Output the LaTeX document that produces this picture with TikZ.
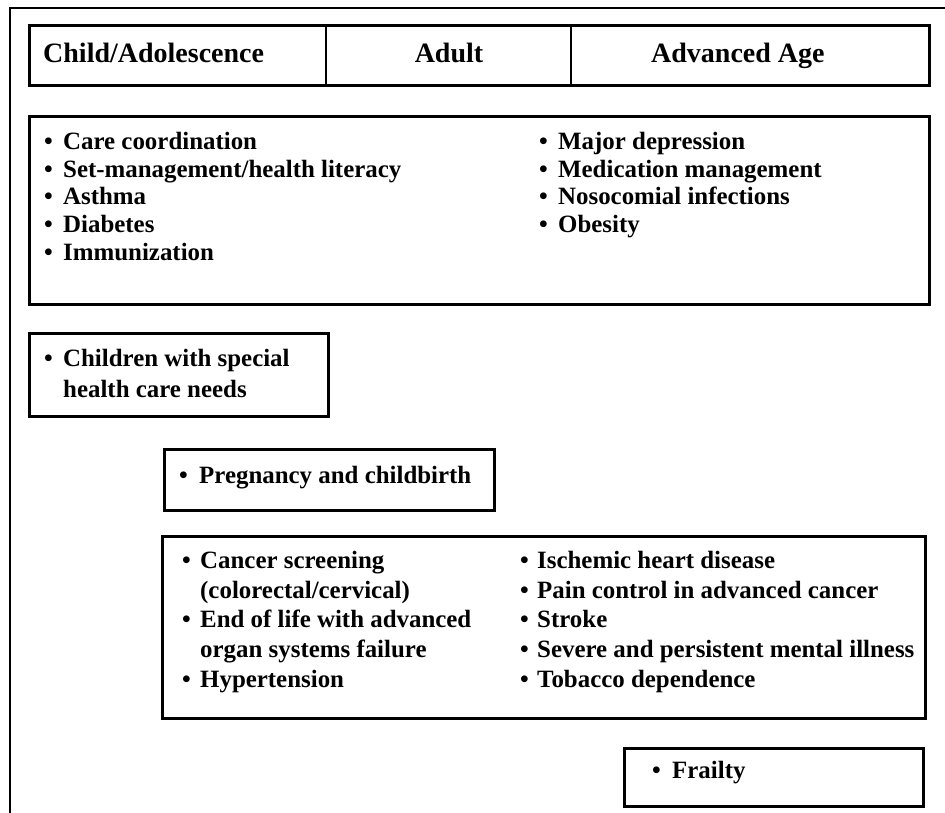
\documentclass[tikz,border=0pt]{standalone}
\usepackage{fontspec}
\setmainfont{Liberation Serif}
\newcommand{\bulbox}[1]{\makebox[#1][l]{•}}
\begin{document}
\begin{tikzpicture}[x=1pt,y=-1pt,
  frameline/.style={line width=2.4pt, line cap=rect},
  boxline/.style={draw, line width=2.7pt},
  pane/.style={boxline, anchor=north west, inner sep=0pt},
  head/.style={anchor=base west, inner sep=0pt, font=\bfseries\fontsize{28}{30}\selectfont},
  itm/.style={anchor=base west, inner sep=0pt, font=\bfseries\fontsize{24.9}{27}\selectfont},
]
\useasboundingbox (0,0) rectangle (945,813);
% outer frame (top and left)
\draw[frameline] (946,8) -- (10,8) -- (10,814);

% header
\node[pane, minimum width=900pt, minimum height=60pt] (hdr) at (28,24) {};
\draw[boxline] (326,24) -- (326,84);
\draw[boxline] (571,24) -- (571,84);
\node[head] (h1) at (43,63) {Child/Adolescence};
\node[head, anchor=base] (h2) at (449,63) {Adult};
\node[head] (h3) at (651,63) {Advanced Age};

% box 2
\node[pane, minimum width=900pt, minimum height=188pt] (b2) at (28,115) {};
\node[itm] (a1) at (44,150) {\bulbox{19pt}Care coordination};
\node[itm] (a2) at (44,177.5) {\bulbox{19pt}Set-management/health literacy};
\node[itm] (a3) at (44,205) {\bulbox{19pt}Asthma};
\node[itm] (a4) at (44,232.5) {\bulbox{19pt}Diabetes};
\node[itm] (a5) at (44,260) {\bulbox{19pt}Immunization};
\node[itm] (a6) at (539,150) {\bulbox{19pt}Major depression};
\node[itm] (a7) at (539,177.5) {\bulbox{19pt}Medication management};
\node[itm] (a8) at (539,205) {\bulbox{19pt}Nosocomial infections};
\node[itm] (a9) at (539,232.5) {\bulbox{19pt}Obesity};

% box 3
\node[pane, minimum width=299pt, minimum height=83pt] (b3) at (28,332) {};
\node[itm] (c1) at (44,366) {\bulbox{19pt}Children with special};
\node[itm] (c2) at (63,397) {health care needs};

% box 4
\node[pane, minimum width=330pt, minimum height=61pt] (b4) at (163,448) {};
\node[itm] (p1) at (179,483) {\bulbox{20pt}Pregnancy and childbirth};

% box 5
\node[pane, minimum width=763pt, minimum height=182pt] (b5) at (161,535) {};
\node[itm] (d1) at (182,568) {\bulbox{18pt}Cancer screening};
\node[itm] (d2) at (200,598) {(colorectal/cervical)};
\node[itm] (d3) at (182,627.5) {\bulbox{18pt}End of life with advanced};
\node[itm] (d4) at (200,657) {organ systems failure};
\node[itm] (d5) at (182,687) {\bulbox{18pt}Hypertension};
\node[itm] (e1) at (520,568) {\bulbox{17pt}Ischemic heart disease};
\node[itm] (e2) at (520,598) {\bulbox{17pt}Pain control in advanced cancer};
\node[itm] (e3) at (520,627.5) {\bulbox{17pt}Stroke};
\node[itm] (e4) at (520,657) {\bulbox{17pt}Severe and persistent mental illness};
\node[itm] (e5) at (520,687) {\bulbox{17pt}Tobacco dependence};

% box 6
\node[pane, minimum width=299pt, minimum height=58pt] (b6) at (623,747) {};
\node[itm] (f1) at (652,778) {\bulbox{20pt}Frailty};
\end{tikzpicture}
\end{document}
